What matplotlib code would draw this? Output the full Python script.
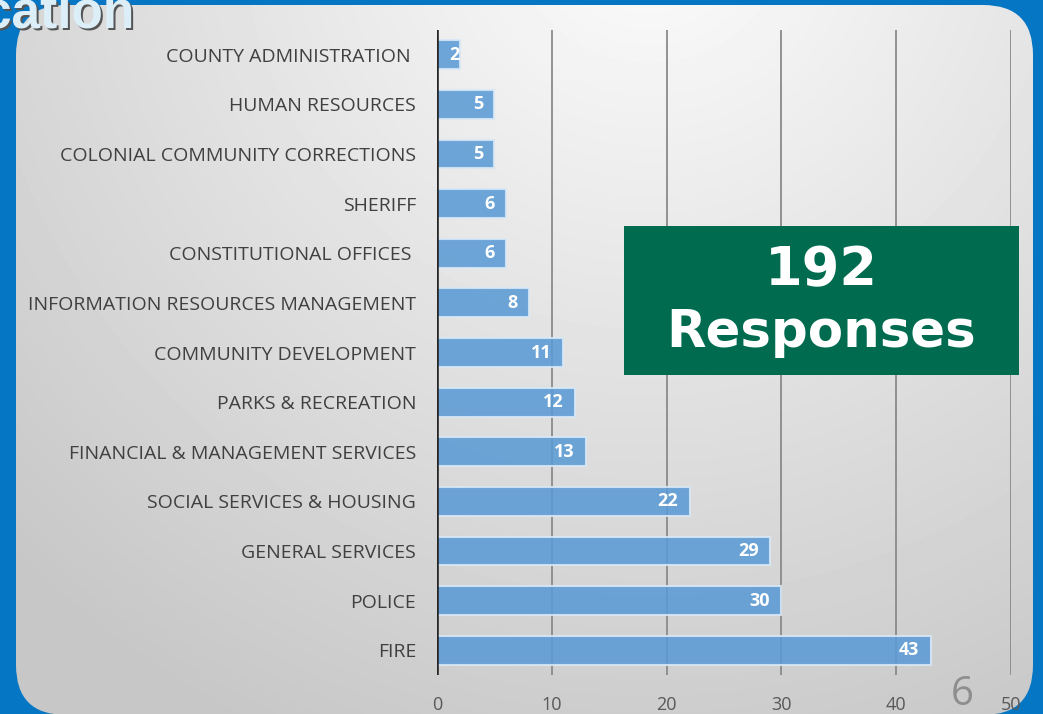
import numpy as np
import matplotlib
matplotlib.use("Agg")
import matplotlib.pyplot as plt
from matplotlib.patches import FancyBboxPatch, Rectangle

# data, top to bottom as on the slide
departments = ["COUNTY ADMINISTRATION ", "HUMAN RESOURCES", "COLONIAL COMMUNITY CORRECTIONS",
               "SHERIFF", "CONSTITUTIONAL OFFICES ", "INFORMATION RESOURCES MANAGEMENT",
               "COMMUNITY DEVELOPMENT", "PARKS & RECREATION", "FINANCIAL & MANAGEMENT SERVICES",
               "SOCIAL SERVICES & HOUSING", "GENERAL SERVICES", "POLICE", "FIRE"]
responses = [2, 5, 5, 6, 6, 8, 11, 12, 13, 22, 29, 30, 43]
xticks = [0, 10, 20, 30, 40, 50]
total_text = ["192", "Responses"]

W, H = 1043, 714
fig = plt.figure(figsize=(W / 100, H / 100), dpi=100)
fig.patch.set_facecolor("#0576C4")

# background panel with soft gradient
bg = fig.add_axes([0, 0, 1, 1])
bg.set_xlim(0, W)
bg.set_ylim(H, 0)
bg.axis("off")
panel = FancyBboxPatch((16, 5), 1017, 710, boxstyle="round,pad=0,rounding_size=50",
                       fc="none", ec="none")
bg.add_patch(panel)
gx, gy = np.meshgrid(np.linspace(16, 1033, 300), np.linspace(5, 715, 200))
dist = np.sqrt((gx - 650) ** 2 + (gy + 80) ** 2)
grad = 0.99 - 0.21 * np.clip(dist / 900, 0, 1)
im = bg.imshow(grad, extent=(16, 1033, 715, 5), cmap="gray", vmin=0, vmax=1,
               aspect="auto", interpolation="bilinear")
im.set_clip_path(panel)

# chart
ax = fig.add_axes([437 / W, 1 - 675 / H, (1011 - 437) / W, (675 - 30) / H])
ax.patch.set_alpha(0)
ypos = np.arange(len(departments))
for x in xticks[1:]:
    ax.axvline(x, color="#8a8a8a", lw=1.3, zorder=1)
ax.barh(ypos, responses, height=0.58, color="#5B9BD5", alpha=0.88,
        edgecolor="#D9E8F6", linewidth=1.5, zorder=2)
ax.axvline(0, color="#262626", lw=2.6, zorder=4)
for y, v in zip(ypos, responses):
    xt = v - 1.0 if v > 3 else v - 0.05
    ax.text(xt, y, str(v), ha="right", va="center", color="white",
            fontsize=13, fontweight="bold", family="Open Sans", zorder=5)
ax.set_xlim(0, 50)
ax.set_ylim(len(departments) - 0.5, -0.5)
ax.set_yticks(ypos)
ax.set_yticklabels(departments, family="Open Sans", fontsize=14, color="#404040")
ax.set_xticks(xticks)
ax.set_xticklabels([str(t) for t in xticks], family="Open Sans", fontsize=13, color="#595959")
ax.tick_params(axis="y", length=0, pad=15)
ax.tick_params(axis="x", length=0, pad=15)
for s in ax.spines.values():
    s.set_visible(False)
for lab in ax.get_xticklabels():
    lab.set_clip_path(panel)

# overlay: box, title fragment, page number
ov = fig.add_axes([0, 0, 1, 1])
ov.set_xlim(0, W)
ov.set_ylim(H, 0)
ov.axis("off")
ov.patch.set_alpha(0)
ov.add_patch(Rectangle((624, 226), 395, 149, fc="#006B4F", ec="none"))
ov.text(821, 270, total_text[0], ha="center", va="center", color="white",
        fontsize=39, fontweight="bold", family="DejaVu Sans")
ov.text(821, 333, total_text[1], ha="center", va="center", color="white",
        fontsize=37, fontweight="bold", family="DejaVu Sans")
ov.text(136, 29, "cation", ha="right", va="baseline", color="#555555",
        fontsize=37, fontweight="bold", family="Liberation Sans")
ov.text(134, 27, "cation", ha="right", va="baseline", color="#DCEEF8",
        fontsize=37, fontweight="bold", family="Liberation Sans")
ov.text(962, 705, "6", ha="center", va="baseline", color="#8E8E8E",
        fontsize=29, family="Open Sans")

fig.savefig("out.png", dpi=100, facecolor=fig.get_facecolor())
